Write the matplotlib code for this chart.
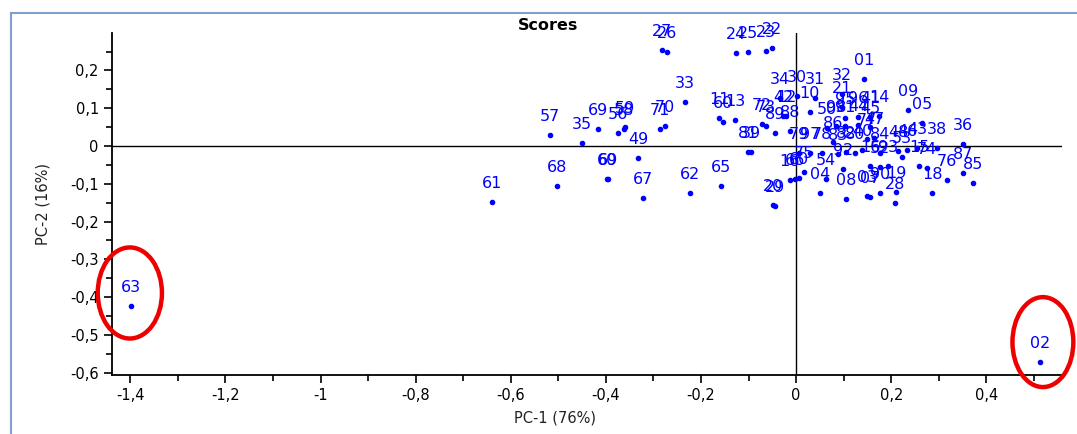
import matplotlib
matplotlib.use("Agg")
from matplotlib import pyplot as plt
from matplotlib.patches import Ellipse, Rectangle
from matplotlib.ticker import MultipleLocator, FuncFormatter

# sample ids and their PCA scores
labels = ["63", "61", "57", "68", "35", "69", "60", "69", "59", "58",
          "56", "49", "71", "70", "67", "33", "62", "27", "26", "11",
          "60", "13", "65", "24", "25", "23", "22", "81", "39", "72",
          "73", "89", "88", "29", "20", "34", "30", "31", "32", "01",
          "42", "12", "10", "21", "09", "05", "36", "38", "95", "96",
          "41", "14", "50", "98", "91", "44", "45", "86", "77", "47",
          "79", "97", "78", "83", "82", "80", "40", "84", "48", "46",
          "53", "43", "92", "16", "52", "93", "15", "74", "76", "87",
          "85", "18", "75", "16", "66", "60", "54", "04", "08", "03",
          "07", "90", "19", "28", "02"]
pc1 = [-1.399, -0.639, -0.517, -0.503, -0.450, -0.416, -0.397, -0.395, -0.360, -0.362,
       -0.374, -0.332, -0.286, -0.275, -0.322, -0.233, -0.223, -0.282, -0.271, -0.162,
       -0.154, -0.128, -0.158, -0.126, -0.101, -0.063, -0.050, -0.101, -0.095, -0.072,
       -0.063, -0.044, -0.013, -0.044, -0.048, -0.034, 0.002, 0.040, 0.097, 0.143,
       -0.027, -0.021, 0.029, 0.097, 0.236, 0.265, 0.351, 0.297, 0.103, 0.130,
       0.156, 0.175, 0.065, 0.084, 0.103, 0.130, 0.156, 0.078, 0.149, 0.164,
       0.006, 0.029, 0.055, 0.088, 0.105, 0.124, 0.139, 0.177, 0.215, 0.233,
       0.223, 0.254, 0.099, 0.156, 0.177, 0.193, 0.259, 0.275, 0.318, 0.351,
       0.372, 0.286, 0.017, -0.013, -0.002, 0.006, 0.063, 0.050, 0.105, 0.149,
       0.156, 0.177, 0.210, 0.208, 0.513]
pc2 = [-0.423, -0.148, 0.029, -0.106, 0.008, 0.045, -0.087, -0.088, 0.050, 0.045,
       0.034, -0.032, 0.045, 0.053, -0.138, 0.116, -0.124, 0.254, 0.249, 0.074,
       0.063, 0.069, -0.106, 0.246, 0.249, 0.251, 0.259, -0.016, -0.016, 0.058,
       0.053, 0.034, 0.040, -0.159, -0.156, 0.127, 0.132, 0.127, 0.138, 0.177,
       0.079, 0.079, 0.090, 0.103, 0.095, 0.061, 0.005, -0.005, 0.074, 0.077,
       0.077, 0.079, 0.048, 0.053, 0.053, 0.056, 0.050, 0.011, 0.019, 0.021,
       -0.019, -0.019, -0.019, -0.021, -0.016, -0.019, -0.011, -0.019, -0.013, -0.011,
       -0.029, -0.005, -0.061, -0.053, -0.056, -0.053, -0.053, -0.058, -0.090, -0.071,
       -0.098, -0.124, -0.069, -0.090, -0.087, -0.085, -0.087, -0.124, -0.140, -0.132,
       -0.135, -0.124, -0.122, -0.151, -0.572]

# outliers circled in red: (center x, center y, width, height)
outliers = [(-1.401, -0.389, 0.135, 0.241), (0.519, -0.519, 0.128, 0.238)]

plt.rcParams['font.family'] = ['DejaVu Sans']

fig = plt.figure(figsize=(10.77, 4.34), dpi=100)
ax = fig.add_axes([0.104, 0.136, 0.882, 0.788])

ax.scatter(pc1, pc2, s=9, color='#0000ff', zorder=3)
for lab, x, y in zip(labels, pc1, pc2):
    ax.annotate(lab, (x, y), xytext=(0, 14), textcoords='offset pixels',
                ha='center', va='baseline', color='#0000ff', fontsize=11.5, zorder=4)

ax.axhline(0, color='black', lw=1)
ax.axvline(0, color='black', lw=1)

for cx, cy, w, h in outliers:
    ax.add_patch(Ellipse((cx, cy), w, h, fill=False, edgecolor='#ee0000',
                         lw=3.2, clip_on=False, zorder=5))

ax.set_xlim(-1.4385, 0.559)
ax.set_ylim(-0.606, 0.299)
ax.xaxis.set_major_locator(MultipleLocator(0.2))
ax.xaxis.set_minor_locator(MultipleLocator(0.1))
ax.yaxis.set_major_locator(MultipleLocator(0.1))
ax.yaxis.set_minor_locator(MultipleLocator(0.05))
comma = FuncFormatter(lambda v, p: ('%g' % round(v, 2)).replace('.', ','))
ax.xaxis.set_major_formatter(comma)
ax.yaxis.set_major_formatter(comma)
ax.tick_params(which='major', direction='out', length=6, width=1.2, labelsize=10.5)
ax.tick_params(which='minor', direction='out', length=4, width=1.2)

ax.spines['top'].set_visible(False)
ax.spines['right'].set_visible(False)
ax.spines['left'].set_linewidth(1.3)
ax.spines['bottom'].set_linewidth(1.3)

ax.set_xlabel("PC-1 (76%)", fontsize=10.5, color='#222222')
ax.set_ylabel("PC-2 (16%)", fontsize=10.5, color='#222222')
ax.xaxis.set_label_coords(0.466, -0.105)
ax.yaxis.set_label_coords(-0.065, 0.5)
ax.set_title("Scores", fontsize=11.5, fontweight='bold', x=0.459, y=1.0, pad=2)

# light blue frame around the panel
fig.patches.append(Rectangle((11 / 1077, -0.1), 1.2, 1 - 13 / 434 + 0.1,
                             transform=fig.transFigure, fill=False,
                             edgecolor='#7f9fd0', lw=1.5))

fig.savefig("out.png", dpi=100)
